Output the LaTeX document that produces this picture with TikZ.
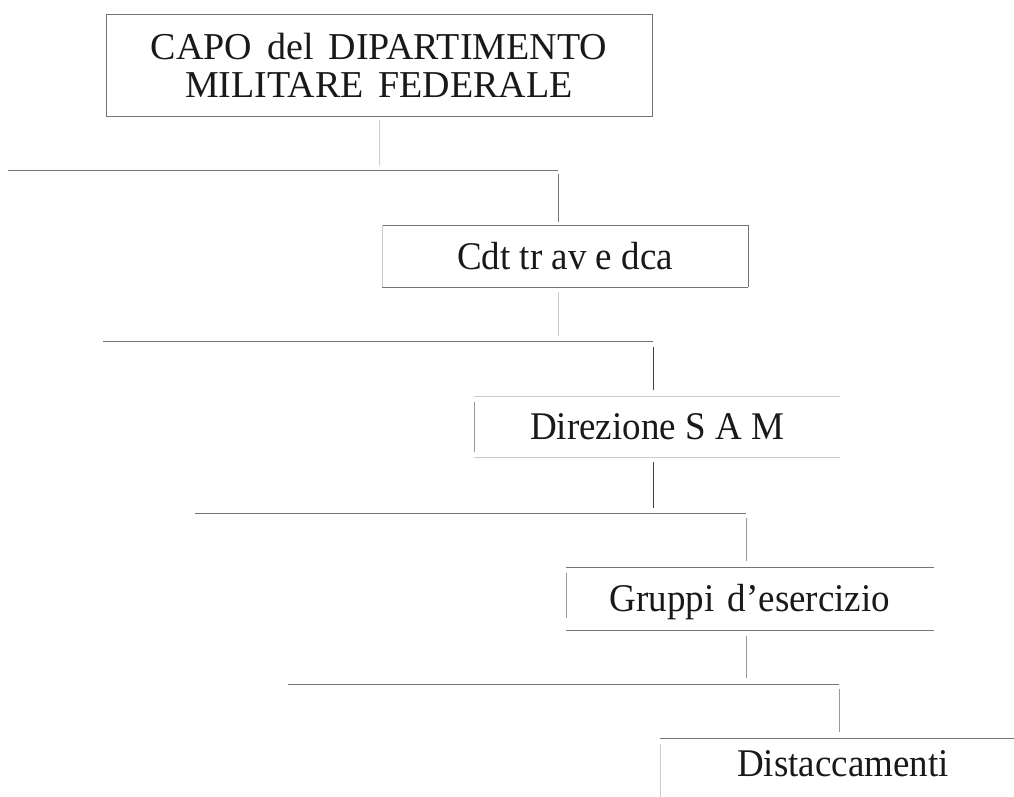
\documentclass[tikz,border=0pt]{standalone}
\usepackage{graphicx}
\usepackage{fontspec}
\setmainfont{Liberation Serif}
\newcommand\tallt[1]{\scalebox{1}[1.06]{#1}}
\newcommand\widesp[1]{\spaceskip=#1\relax}
\begin{document}
\begin{tikzpicture}[x=1pt,y=-1pt,
  edge/.style={draw=black!55, line width=0.9pt},
  mid/.style={draw=black!40, line width=0.8pt},
  faint/.style={draw=black!20, line width=0.8pt},
  darkline/.style={draw=black!75, line width=1pt},
  boxbase/.style={inner sep=0pt, outer sep=0pt, text=black!90},
  onebox/.style={boxbase, minimum height=62pt, text height=30pt, text depth=4pt,
    font=\fontsize{37}{36}\selectfont}]
\useasboundingbox (0,0) rectangle (1014,796);
\clip (0,0) rectangle (1014,796);

% boxes
\node[boxbase, minimum width=546pt, minimum height=102pt, align=center,
  font=\fontsize{38}{38}\selectfont] (b1) at (379,65)
  {\widesp{15pt}CAPO del DIPARTIMENTO\\\widesp{15pt}MILITARE FEDERALE};
\node[onebox, minimum width=366pt] (b2) at (565,256) {\tallt{Cdt tr av e dca}};
\node[onebox, minimum width=366pt, minimum height=61pt] (b3) at (657,426.5) {\tallt{Direzione S A M}};
\node[onebox, minimum width=368pt, minimum height=63pt] (b4) at (750,598.5) {\widesp{13pt}\tallt{Gruppi d’esercizio}};
\node[onebox, minimum width=366pt, minimum height=50pt] (b5) at (843,763) {\tallt{Distaccamenti}};

% box outlines
\draw[edge] (b1.north west) rectangle (b1.south east);
\draw[edge] (b2.south west) -- (b2.south east);
\draw[edge] (b2.north west) -- (b2.north east) -- (b2.south east);
\draw[faint] (b2.north west) -- (b2.south west);
\draw[faint] (b3.north west) -- (b3.north east);
\draw[faint] (b3.south west) -- (b3.south east);
\draw[mid] ([yshift=-6pt]b3.north west) -- ([yshift=5pt]b3.south west);
\draw[edge] (b4.north west) -- (b4.north east);
\draw[edge] (b4.south west) -- (b4.south east);
\draw[mid] ([yshift=-6pt]b4.north west) -- ([yshift=12pt]b4.south west);
\draw[edge] (b5.north west) -- (b5.north east);
\draw[faint] ([yshift=-6pt]b5.north west) -- ([yshift=-80pt]b5.north west);

% horizontal bars
\coordinate (h1a) at (8,170);   \coordinate (h1b) at (558,170);
\coordinate (h2a) at (103,341); \coordinate (h2b) at (653,341);
\coordinate (h3a) at (195,513); \coordinate (h3b) at (746,513);
\coordinate (h4a) at (288,684); \coordinate (h4b) at (839,684);

% connectors
\draw[faint] ([yshift=-4pt]b1.south) -- ([yshift=4pt]b1.south |- h1a);
\draw[edge] (h1a) -- (h1b);
\draw[edge] ([yshift=-4pt]h1b) -- ([yshift=3pt]h1b |- b2.north);

\draw[faint] ([yshift=-5pt]h1b |- b2.south) -- ([yshift=5pt]h1b |- h2a);
\draw[edge] (h2a) -- (h2b);
\draw[darkline] ([yshift=-6pt]h2b) -- ([yshift=6pt]h2b |- b3.north);

\draw[darkline] ([yshift=-5pt]h2b |- b3.south) -- ([yshift=5pt]h2b |- h3a);
\draw[edge] (h3a) -- (h3b);
\draw[mid] ([yshift=-5pt]h3b) -- ([yshift=6pt]h3b |- b4.north);

\draw[mid] ([yshift=-6pt]h3b |- b4.south) -- ([yshift=6pt]h3b |- h4a);
\draw[edge] (h4a) -- (h4b);
\draw[mid] ([yshift=-5pt]h4b) -- ([yshift=6pt]h4b |- b5.north);
\end{tikzpicture}
\end{document}
